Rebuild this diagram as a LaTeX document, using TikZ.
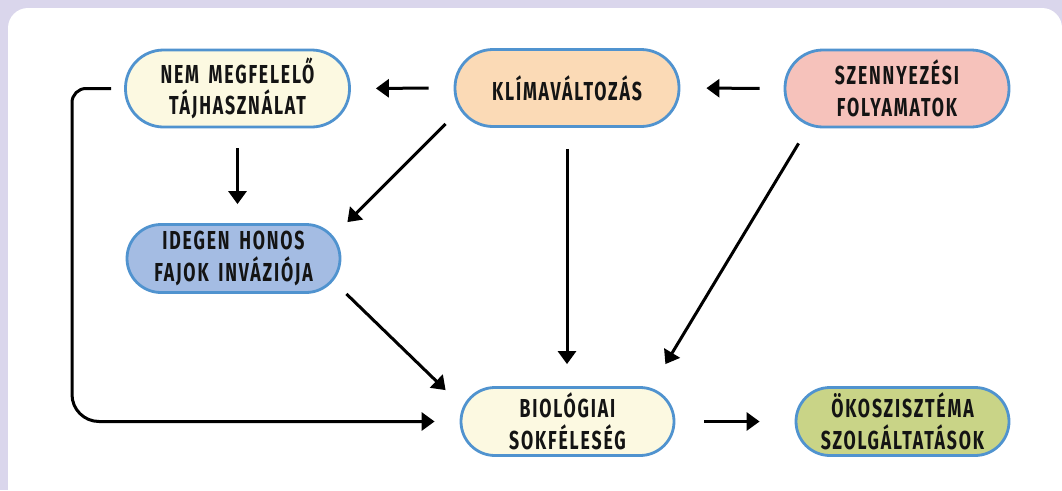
\documentclass[tikz,border=0pt]{standalone}
\usepackage{fontspec}
\usetikzlibrary{arrows.meta}
\newfontfamily\labfont[FakeStretch=0.68,LetterSpace=7,WordSpace=1.6]{Fira Sans}
\definecolor{lav}{HTML}{DAD6EC}
\definecolor{bord}{HTML}{5093CF}
\definecolor{cream}{HTML}{FCF9E1}
\definecolor{peach}{HTML}{FBDAB6}
\definecolor{pink}{HTML}{F6C2BB}
\definecolor{blu}{HTML}{A4BCE3}
\definecolor{olive}{HTML}{C9D487}
\tikzset{
  box/.style={draw=bord, line width=2.8pt, align=center, inner sep=0pt,
    font=\labfont\bfseries\fontsize{26}{31.5}\selectfont, text=black!92},
  bigbox/.style={box, minimum width=224pt, minimum height=77pt, rounded corners=38pt},
  smallbox/.style={box, minimum width=213pt, minimum height=68pt, rounded corners=34pt},
  arr/.style={line width=3pt, -{Triangle[length=13pt,width=18pt]}}
}
\begin{document}
\begin{tikzpicture}[x=1pt,y=-1pt]
\useasboundingbox (0,0) rectangle (1062,490);
\clip (0,0) rectangle (1062,490);
\fill[lav] (0,0) rectangle (1062,490);
\fill[white, rounded corners=20pt] (8,8) rectangle (1062,530);

\node[bigbox, fill=cream] (nem) at (237.5,88.5) {NEM MEGFELELŐ\\TÁJHASZNÁLAT};
\node[bigbox, fill=peach] (klima) at (567,88) {KLÍMAVÁLTOZÁS};
\node[bigbox, fill=pink] (szenny) at (897,88.5) {SZENNYEZÉSI\\FOLYAMATOK};
\node[smallbox, fill=blu] (idegen) at (233.5,258.5) {IDEGEN HONOS\\FAJOK INVÁZIÓJA};
\node[smallbox, fill=cream] (bio) at (567.5,421.5) {BIOLÓGIAI\\SOKFÉLESÉG};
\node[smallbox, fill=olive] (oko) at (902.5,421.5) {ÖKOSZISZTÉMA\\SZOLGÁLTATÁSOK};

\draw[arr, shorten <=25pt, shorten >=25pt] (klima.west) -- (nem.east);
\draw[arr, shorten <=24pt, shorten >=26pt] (szenny.west) -- (klima.east);
\draw[arr, shorten <=20pt, shorten >=19pt] (nem.south) -- (nem.south |- idegen.north);
\draw[arr] ([shift={(-8,-4)}]klima.south west) -- ([shift={(6,-1)}]idegen.north east);
\draw[arr, shorten <=21pt, shorten >=22pt] (klima.south) -- (klima.south |- bio.north);
\draw[arr] ([shift={(15,15)}]szenny.south west) -- ([shift={(-10,-22)}]bio.north east);
\draw[arr] ([shift={(5,0)}]idegen.south east) -- ([shift={(-14,4)}]bio.north west);
\coordinate (lc) at (72,250);
\draw[arr] ([xshift=-13pt]nem.west) [rounded corners=14pt] -| (lc) [rounded corners=27pt] |- ([xshift=-25pt]bio.west);
\draw[arr, shorten <=29pt, shorten >=35pt] (bio.east) -- (oko.west);
\end{tikzpicture}
\end{document}
